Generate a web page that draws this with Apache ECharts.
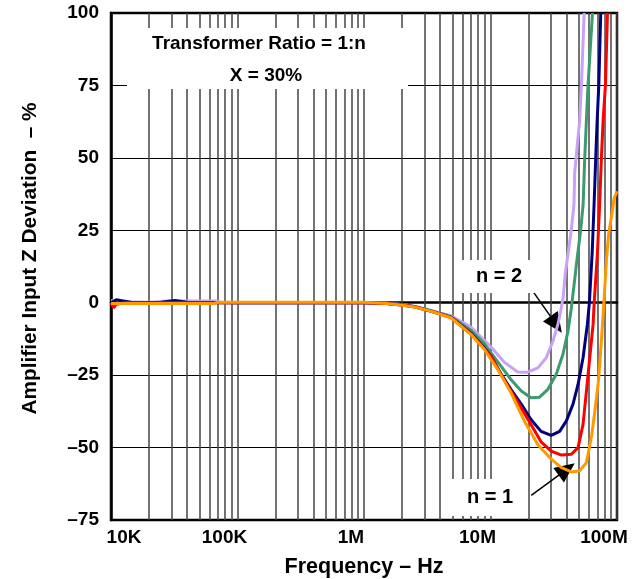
<!DOCTYPE html>
<html>
<head>
<meta charset="utf-8">
<script src="https://cdn.jsdelivr.net/npm/echarts@6/dist/echarts.min.js"></script>
<style>
  html, body { margin: 0; padding: 0; background: #fff; }
  #chart { width: 638px; height: 579px; }
</style>
</head>
<body>
<div id="chart"></div>
<script>
// ---------- data ----------
const xTickValues = [1e4, 1e5, 1e6, 1e7, 1e8];
const xTickLabels = ['10K', '100K', '1M', '10M', '100M'];
const yTickValues = [-75, -50, -25, 0, 25, 50, 75, 100];
const yTickLabels = ['–75', '–50', '–25', '0', '25', '50', '75', '100'];
const minorFreqs = [2e4,3e4,4e4,5e4,6e4,7e4,8e4,9e4,
                    2e5,3e5,4e5,5e5,6e5,7e5,8e5,9e5,
                    2e6,3e6,4e6,5e6,6e6,7e6,8e6,9e6,
                    2e7,3e7,4e7,5e7,6e7,7e7,8e7,9e7];

const seriesNames = ['n = 2 (a)', 'b', 'c', 'd', 'n = 1 (e)'];
const seriesColors = ['#c7a2f5', '#3b9a6e', '#00007f', '#ff0000', '#ff9900'];

const lavenderData = [[1e4,0.8],[1.3e4,0.3],[2e4,0.2],[2.8e4,0.6],[5e4,0.6],[6.8e4,0.6],[7.5e4,0],[1e5,0],[5e5,0],[1e6,0],
  [1.5e6,-0.2],[2e6,-0.6],[2.5e6,-1.2],[3.37e6,-2.8],[4.87e6,-4.5],[7e6,-8.4],[1.01e7,-15.3],[1.29e7,-20.6],
  [1.64e7,-23.9],[1.97e7,-24],[2.37e7,-22.5],[2.76e7,-19],[3.12e7,-13.2],[3.41e7,-7.5],[3.6e7,-2.5],
  [3.75e7,1.7],[3.9e7,10],[4.35e7,25],[4.57e7,34],[4.63e7,45],[5.07e7,63],[5.23e7,75],[5.5e7,100]];

const greenData = [[1e4,0.2],[2e4,0],[1e5,0],[1e6,0.1],[1.5e6,-0.2],[2e6,-0.7],[2.5e6,-1.3],[3.37e6,-2.7],
  [4.87e6,-4.8],[7e6,-9.5],[8.9e6,-14],[1.01e7,-17.3],[1.21e7,-21.9],[1.45e7,-26.5],[1.75e7,-30.5],
  [2.09e7,-32.8],[2.44e7,-32.6],[2.84e7,-29.9],[3.31e7,-24.7],[3.74e7,-17.8],[4.1e7,-9.8],[4.36e7,-1.7],
  [4.63e7,8],[4.8e7,14],[5.16e7,25],[5.4e7,34],[5.56e7,50],[5.73e7,63],[5.9e7,75],[6.4e7,100]];

const navyData = [[1e4,0],[1.1e4,1],[1.25e4,0.6],[1.5e4,0],[2.5e4,0.2],[3.2e4,0.8],[4e4,0.2],[1e5,0],[1e6,0],
  [1.5e6,-0.3],[2e6,-0.8],[2.5e6,-1.4],[3.37e6,-2.9],[4.87e6,-5],[7e6,-10.5],[8.9e6,-15.5],[1.01e7,-18.5],
  [1.21e7,-24.5],[1.45e7,-29.9],[1.75e7,-35],[2.09e7,-40.3],[2.51e7,-44.4],[3.02e7,-45.8],[3.52e7,-44.4],
  [3.98e7,-40.8],[4.49e7,-35],[4.92e7,-28.2],[5.39e7,-19],[5.83e7,-7.5],[6.05e7,0],[6.36e7,17],
  [6.59e7,34],[6.79e7,50],[6.97e7,63],[7.18e7,75],[7.44e7,100]];

const redData = [[1e4,0],[1.05e4,-1.8],[1.1e4,-0.5],[1.3e4,0],[1e5,0],[1e6,0],[1.5e6,-0.3],[2e6,-0.8],
  [2.5e6,-1.4],[3.37e6,-2.9],[4.87e6,-5.1],[7e6,-10.8],[8.9e6,-15.8],[1.01e7,-18.5],[1.21e7,-24.8],
  [1.45e7,-30.5],[1.75e7,-36.3],[2.09e7,-42],[2.51e7,-48],[3.02e7,-51.2],[3.64e7,-52.6],[4.36e7,-52.3],
  [4.92e7,-50],[5.39e7,-42],[5.73e7,-30.5],[6.09e7,-19],[6.47e7,-7.5],[6.6e7,0],[7e7,17],[7.29e7,34],
  [7.53e7,50],[7.77e7,63],[8.1e7,75],[8.41e7,100]];

const orangeData = [[1e4,-0.3],[3e4,-0.3],[6.5e4,-0.3],[7e4,0.2],[1e6,0.2],[1.5e6,-0.3],[2e6,-0.9],
  [2.5e6,-1.5],[3.37e6,-2.9],[4.87e6,-5.2],[7e6,-10.9],[8.9e6,-16],[1.14e7,-23],[1.45e7,-31],
  [1.85e7,-40.8],[2.37e7,-49],[3.02e7,-54],[3.64e7,-56.9],[4.36e7,-58.4],[5.07e7,-58],[5.73e7,-55.2],
  [6.3e7,-46],[6.7e7,-37],[7.15e7,-26.6],[7.5e7,-14],[7.8e7,-3],[8.26e7,15],[8.6e7,24],[9.03e7,29.5],
  [9.5e7,36],[1e8,38.5]];

const allData = [lavenderData, greenData, navyData, redData, orangeData];

// annotation arrows [start, end] in data coordinates
const arrowN2 = [[2.2e7, 3.5], [3.3e7, -7.5]];
const arrowN1 = [[2.1e7, -66.5], [4.0e7, -57.5]];

// ---------- chart ----------
const FONT = '"Liberation Sans", Arial, sans-serif';
const chart = echarts.init(document.getElementById('chart'), null, { renderer: 'canvas' });

const lineSeries = allData.map((d, i) => ({
  name: seriesNames[i],
  type: 'line',
  data: d,
  showSymbol: false,
  symbol: 'none',
  smooth: false,
  z: 10,
  lineStyle: { color: seriesColors[i], width: 3 },
  itemStyle: { color: seriesColors[i] },
  animation: false
}));

const option = {
  animation: false,
  backgroundColor: '#fff',
  grid: { left: 111, top: 13, right: 21, bottom: 59, outerBoundsMode: 'none', containLabel: false,
          show: true, borderColor: '#000', borderWidth: 2.5, backgroundColor: 'transparent' },
  xAxis: {
    type: 'log', logBase: 10, min: 1e4, max: 1e8, interval: 1,
    name: 'Frequency – Hz', nameLocation: 'middle', nameGap: 36,
    nameTextStyle: { fontFamily: FONT, fontWeight: 'bold', fontSize: 21.5, color: '#000' },
    axisLine: { show: true, lineStyle: { color: '#000', width: 2.5 } },
    axisTick: { show: false },
    splitLine: { show: true, lineStyle: { color: '#444', width: 1.5 } },
    axisLabel: {
      margin: 8,
      formatter: function (v) {
        let idx = 0, best = 1e9;
        xTickValues.forEach((t, i) => { const d = Math.abs(Math.log10(t) - Math.log10(v)); if (d < best) { best = d; idx = i; } });
        return idx === 0 ? '{first|' + xTickLabels[idx] + '}' : '{rest|' + xTickLabels[idx] + '}';
      },
      rich: {
        first: { fontFamily: FONT, fontWeight: 'bold', fontSize: 19, color: '#000', padding: [0, 0, 0, 26] },
        rest: { fontFamily: FONT, fontWeight: 'bold', fontSize: 19, color: '#000', padding: [0, 26, 0, 0] }
      }
    }
  },
  yAxis: {
    type: 'value', min: -75, max: 100, interval: 25,
    name: 'Amplifier Input Z Deviation  – %', nameLocation: 'middle', nameGap: 70, nameRotate: 90,
    nameTextStyle: { fontFamily: FONT, fontWeight: 'bold', fontSize: 20.8, color: '#000', padding: [0, 0, 0, 16] },
    axisLine: { show: true, lineStyle: { color: '#000', width: 2.5 } },
    axisTick: { show: false },
    splitLine: { show: true, lineStyle: { color: '#000', width: 1.2 } },
    axisLabel: {
      margin: 12, fontFamily: FONT, fontWeight: 'bold', fontSize: 19, color: '#000', padding: [4, 0, 0, 0],
      formatter: function (v) { const i = yTickValues.indexOf(v); return i >= 0 ? yTickLabels[i] : String(v); }
    }
  },
  graphic: [
    { type: 'rect', zlevel: 1, z: 5, shape: { x: 127, y: 28, width: 281, height: 61 }, style: { fill: '#fff' } },
    { type: 'rect', zlevel: 1, z: 5, shape: { x: 455, y: 260, width: 80, height: 33 }, style: { fill: '#fff' } },
    { type: 'rect', zlevel: 1, z: 5, shape: { x: 450, y: 479, width: 76, height: 37 }, style: { fill: '#fff' } },
    { type: 'text', zlevel: 1, z: 6, x: 259, y: 44, style: { text: 'Transformer Ratio = 1:n', font: 'bold 19px ' + FONT, fill: '#000', align: 'center', verticalAlign: 'middle' } },
    { type: 'text', zlevel: 1, z: 6, x: 266, y: 76, style: { text: 'X = 30%', font: 'bold 19px ' + FONT, fill: '#000', align: 'center', verticalAlign: 'middle' } },
    { type: 'text', zlevel: 1, z: 6, x: 499, y: 276, style: { text: 'n = 2', font: 'bold 20px ' + FONT, fill: '#000', align: 'center', verticalAlign: 'middle' } },
    { type: 'text', zlevel: 1, z: 6, x: 490, y: 497, style: { text: 'n = 1', font: 'bold 20px ' + FONT, fill: '#000', align: 'center', verticalAlign: 'middle' } }
  ],
  series: [
    {
      type: 'line', data: [], z: 1, silent: true,
      markLine: {
        silent: true, symbol: 'none', animation: false,
        label: { show: false },
        lineStyle: { color: '#444', width: 1.5, type: 'solid' },
        emphasis: { disabled: true },
        data: minorFreqs.map(f => ({ xAxis: f }))
      }
    },
    ...lineSeries,
    {
      type: 'line', data: [], zlevel: 2, z: 12, silent: true,
      markLine: {
        silent: true, animation: false,
        symbol: ['none', 'triangle'], symbolSize: [18, 20],
        label: { show: false },
        lineStyle: { color: '#000', width: 1.5, type: 'solid' },
        itemStyle: { color: '#000' },
        emphasis: { disabled: true },
        data: [
          [{ coord: arrowN2[0] }, { coord: arrowN2[1] }],
          [{ coord: arrowN1[0] }, { coord: arrowN1[1] }]
        ]
      }
    }
  ]
};
chart.setOption(option);
</script>
</body>
</html>
